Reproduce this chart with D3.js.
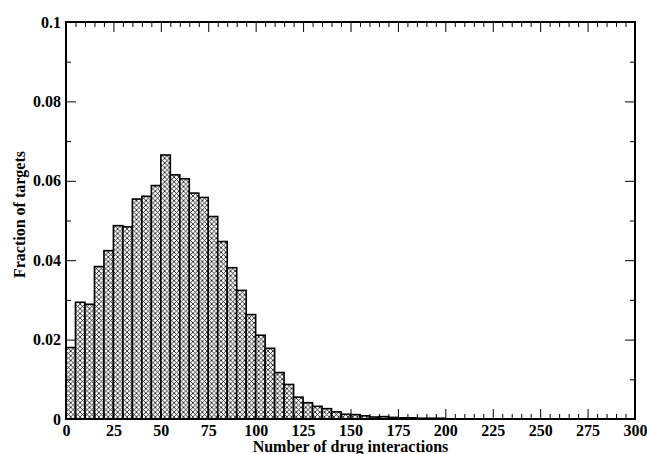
<!DOCTYPE html>
<html>
<head>
<meta charset="utf-8">
<script src="https://cdn.jsdelivr.net/npm/d3@7"></script>
<style>
  html, body { margin: 0; padding: 0; background: #fff; }
  svg { display: block; }
  text { font-family: "Liberation Serif", "Times New Roman", serif; font-weight: bold; fill: #000; }
</style>
</head>
<body>
<svg id="chart" width="647" height="454"></svg>
<script>
// ---- data ----
const binStarts = [0,5,10,15,20,25,30,35,40,45,50,55,60,65,70,75,80,85,90,95,
                   100,105,110,115,120,125,130,135,140,145,150,155,160,165,170,175,180,185,190,195];
const fractions = [0.0180,0.0294,0.0289,0.0384,0.0424,0.0487,0.0484,0.0554,0.0561,0.0588,
                   0.0665,0.0615,0.0605,0.0569,0.0558,0.0510,0.0447,0.0381,0.0324,0.0263,
                   0.0211,0.0178,0.0117,0.0087,0.0055,0.0041,0.0032,0.0026,0.0018,0.0012,
                   0.0011,0.0008,0.0005,0.0006,0.0004,0.0003,0.0003,0.0002,0.0002,0.0002];
const binWidth = 5;
const xTickValues = [0,25,50,75,100,125,150,175,200,225,250,275,300];
const yTickValues = [0,0.02,0.04,0.06,0.08,0.1];
const yTickLabels = ["0","0.02","0.04","0.06","0.08","0.1"];
const xTitle = "Number of drug interactions";
const yTitle = "Fraction of targets";

(function () {
// ---- layout ----
const W = 647, H = 454;
const m = { left: 66, top: 22, right: 12, bottom: 35 };
const pw = W - m.left - m.right, ph = H - m.top - m.bottom;
const FS = 16;

const svg = d3.select("#chart");
const defs = svg.append("defs");
const pat = defs.append("pattern")
  .attr("id", "xhatch").attr("patternUnits", "userSpaceOnUse")
  .attr("width", 4.7).attr("height", 4.7);
pat.append("rect").attr("width", 4.7).attr("height", 4.7).attr("fill", "#fff");
pat.append("path").attr("d", "M0,0L4.7,4.7M4.7,0L0,4.7")
  .attr("stroke", "#111").attr("stroke-width", 0.85).attr("fill", "none");

const x = d3.scaleLinear().domain([0, 300]).range([0, pw]);
const y = d3.scaleLinear().domain([0, 0.1]).range([ph, 0]);

const g = svg.append("g").attr("transform", `translate(${m.left},${m.top})`);

// bars
const data = binStarts.map((s, i) => ({ s, v: fractions[i] }));
g.append("g").selectAll("rect").data(data).enter().append("rect")
  .attr("x", d => x(d.s))
  .attr("y", d => y(d.v))
  .attr("width", d => x(d.s + binWidth) - x(d.s))
  .attr("height", d => y(0) - y(d.v))
  .attr("fill", "url(#xhatch)")
  .attr("stroke", "#000").attr("stroke-width", 1.6);

// ticks (inward on all sides)
const xMinor = d3.range(0, 301, 5).filter(v => v % 25 !== 0);
const yMinor = [0.01,0.03,0.05,0.07,0.09];

const axBottom = g.append("g").attr("transform", `translate(0,${ph})`)
  .call(d3.axisBottom(x).tickValues(xTickValues).tickSize(-10).tickFormat(d3.format("d")));
const axBottomMinor = g.append("g").attr("transform", `translate(0,${ph})`)
  .call(d3.axisBottom(x).tickValues(xMinor).tickSize(-5).tickFormat(""));
const axTop = g.append("g")
  .call(d3.axisTop(x).tickValues(xTickValues).tickSize(-10).tickFormat(""));
const axTopMinor = g.append("g")
  .call(d3.axisTop(x).tickValues(xMinor).tickSize(-5).tickFormat(""));
const axLeft = g.append("g")
  .call(d3.axisLeft(y).tickValues(yTickValues).tickSize(-10).tickPadding(5)
    .tickFormat((d, i) => yTickLabels[i]));
const axLeftMinor = g.append("g")
  .call(d3.axisLeft(y).tickValues(yMinor).tickSize(-5).tickFormat(""));
const axRight = g.append("g").attr("transform", `translate(${pw},0)`)
  .call(d3.axisRight(y).tickValues(yTickValues).tickSize(-10).tickFormat(""));
const axRightMinor = g.append("g").attr("transform", `translate(${pw},0)`)
  .call(d3.axisRight(y).tickValues(yMinor).tickSize(-5).tickFormat(""));

[axBottom, axBottomMinor, axTop, axTopMinor, axLeft, axLeftMinor, axRight, axRightMinor].forEach(a => {
  a.select(".domain").remove();
  a.selectAll(".tick line").attr("stroke", "#000").attr("stroke-width", 1);
  a.selectAll("text").attr("font-family", "Liberation Serif, serif")
    .attr("font-weight", "bold").attr("font-size", FS).attr("fill", "#000");
});
axBottom.selectAll("text").attr("y", 17).attr("dy", 0);

// frame
g.append("rect").attr("width", pw).attr("height", ph)
  .attr("fill", "none").attr("stroke", "#000").attr("stroke-width", 2);

// titles
svg.append("text").attr("x", m.left + pw / 2).attr("y", 452)
  .attr("text-anchor", "middle").attr("font-size", FS).text(xTitle);
svg.append("text")
  .attr("transform", `translate(25,${m.top + ph / 2 - 6}) rotate(-90)`)
  .attr("text-anchor", "middle").attr("font-size", FS).text(yTitle);
})();
</script>
</body>
</html>
